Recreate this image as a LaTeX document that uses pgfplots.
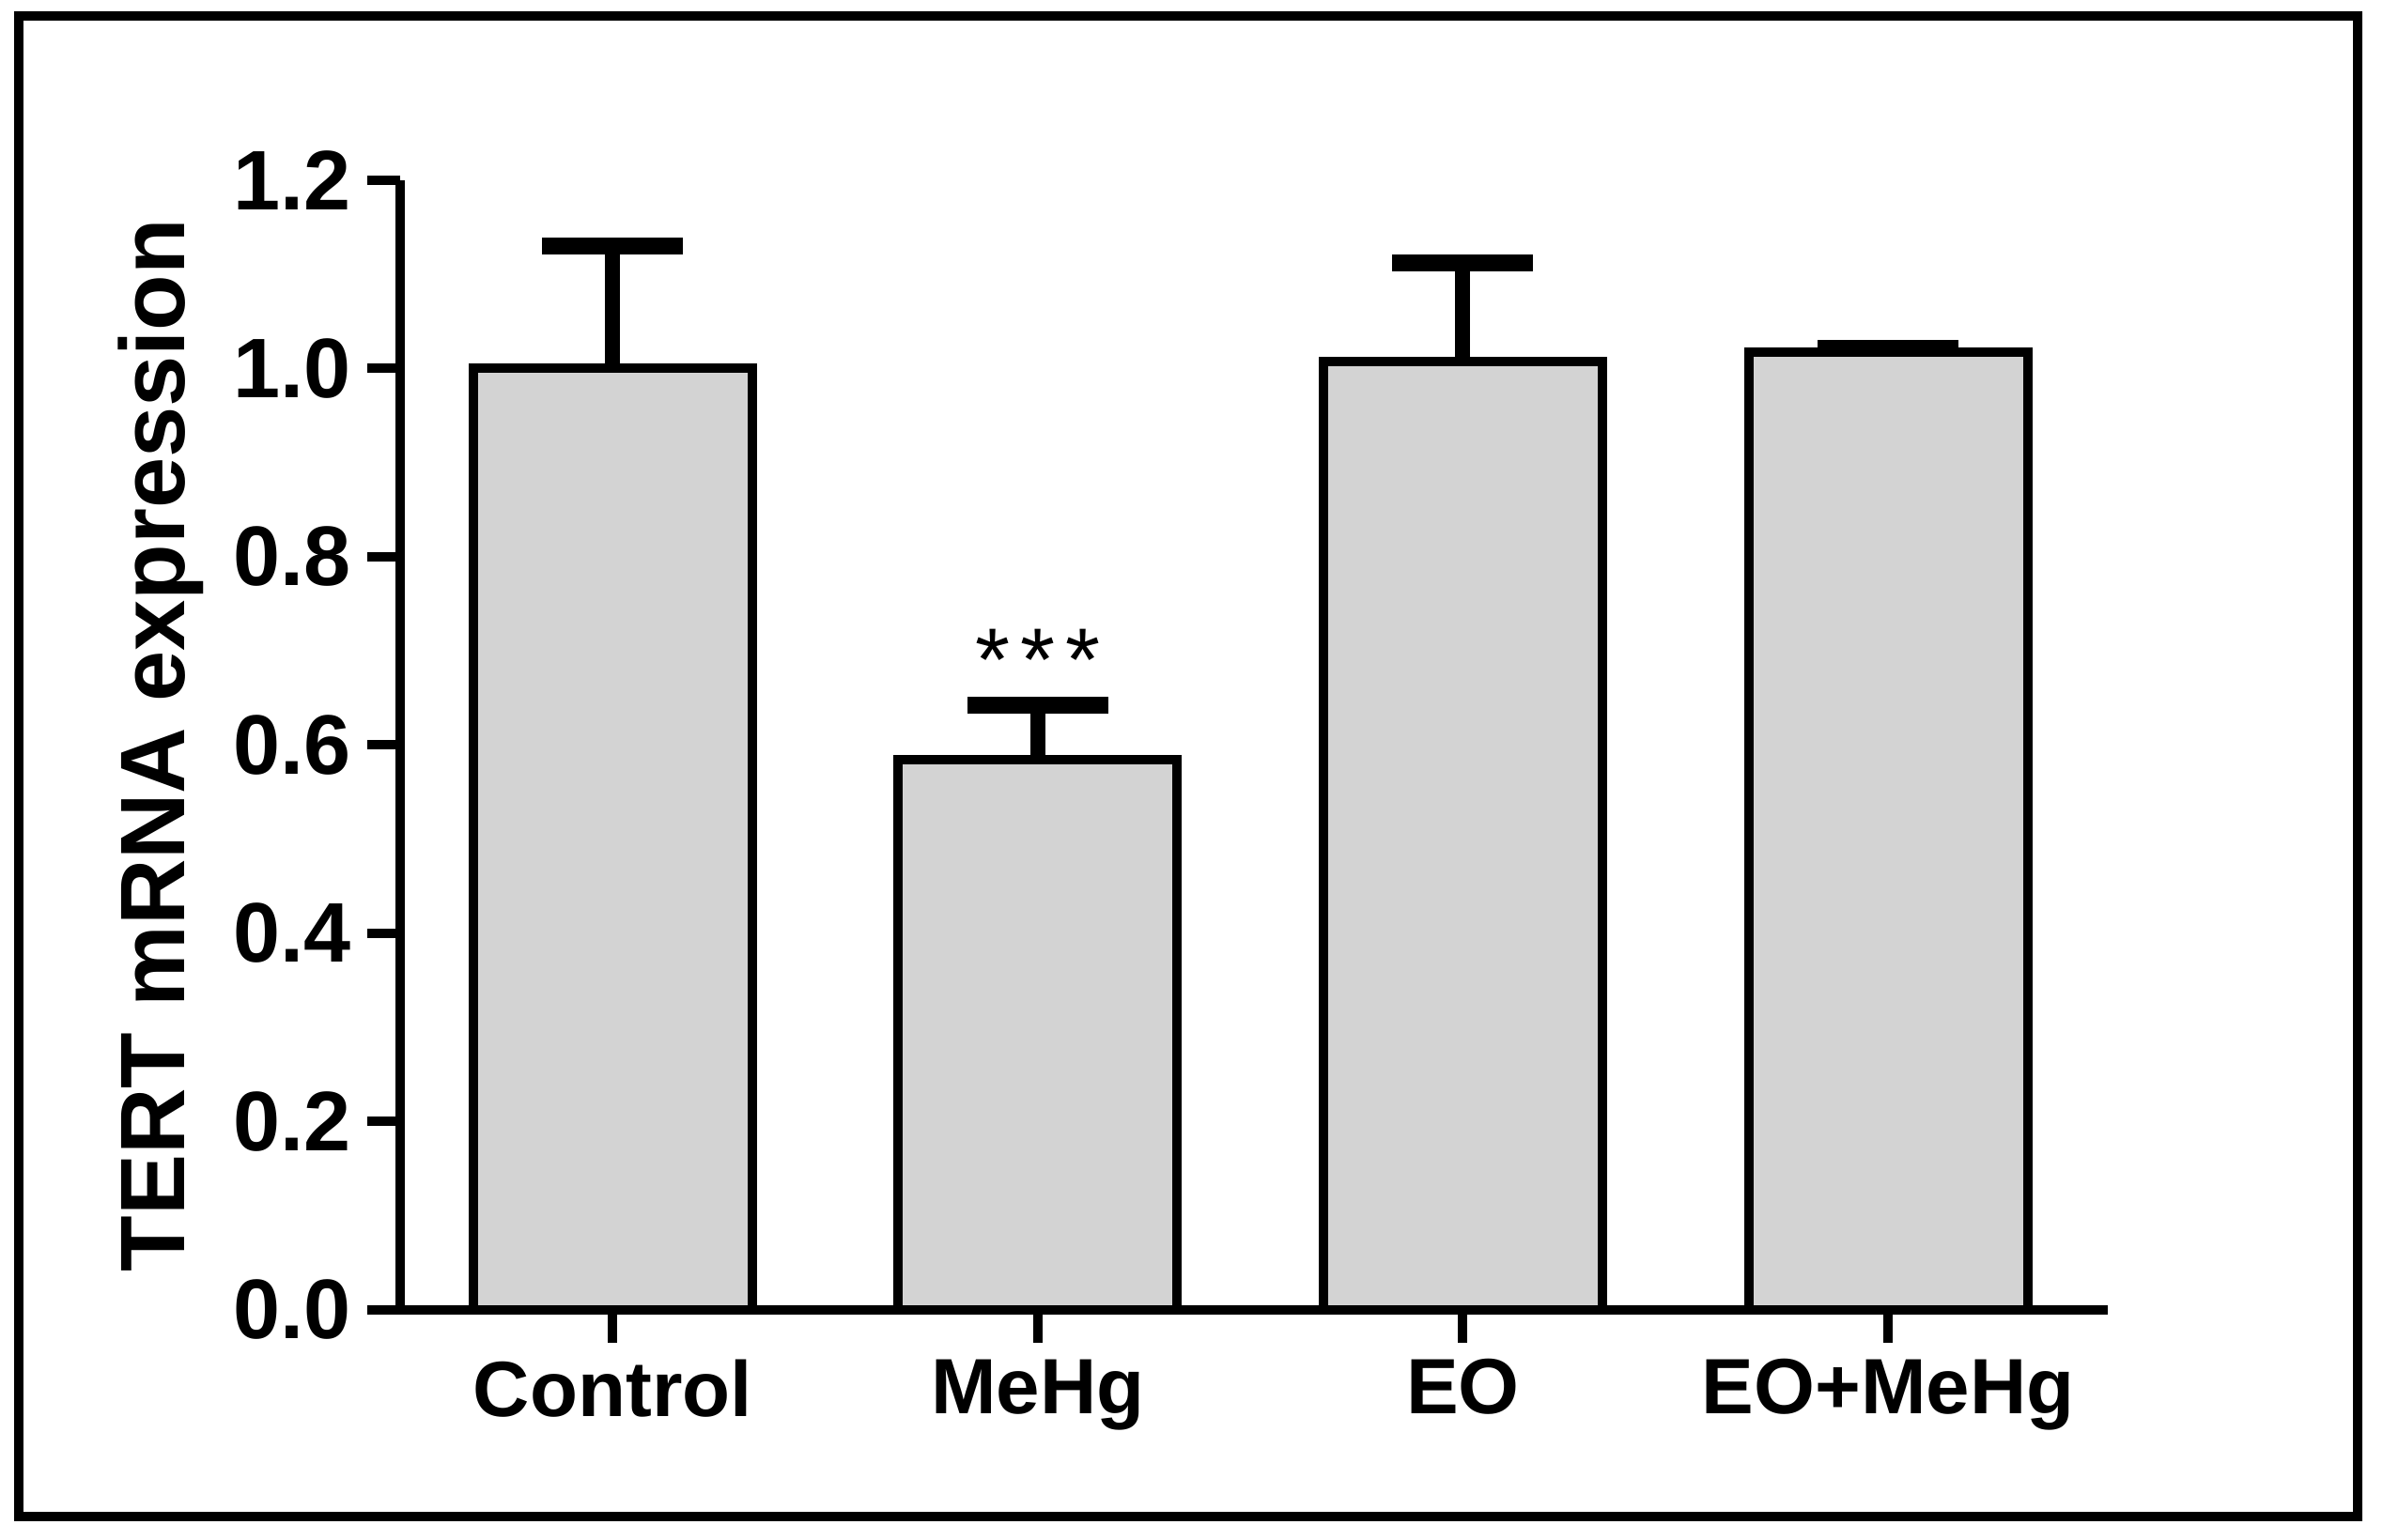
\documentclass[border=0pt]{standalone}
\usepackage{fontspec}
\setmainfont{Liberation Sans}
\usepackage{pgfplots}
\pgfplotsset{compat=1.18}
\definecolor{barfill}{RGB}{211,211,211}
\begin{document}
\begin{tikzpicture}[x=1pt,y=1pt]
\useasboundingbox (0,0) rectangle (507.4,328);
\draw[line width=2pt] (4,5) rectangle (502,324.6);
\begin{axis}[
  at={(85.2pt,49pt)}, anchor=south west,
  width=363.6pt, height=240.6pt, scale only axis,
  xmin=-0.5, xmax=3.517, ymin=0, ymax=1.2,
  axis x line*=bottom, axis y line*=left,
  axis line style={line width=2pt, black},
  ytick={0,0.2,0.4,0.6,0.8,1.0,1.2},
  xtick={0,1,2,3}, xticklabels={Control,MeHg,EO,EO+MeHg},
  tick align=outside, major tick length=7pt,
  tick style={line width=2pt, black},
  /pgf/number format/assume math mode=true,
  yticklabel style={/pgf/number format/fixed, /pgf/number format/fixed zerofill, /pgf/number format/precision=1, font=\bfseries\fontsize{18}{20}\selectfont},
  xticklabel style={font=\bfseries\fontsize{16.7}{20}\selectfont},
  ylabel={TERT mRNA expression},
  ylabel style={font=\bfseries\fontsize{19.5}{22}\selectfont, at={(axis description cs:-0.1403,0.5)}, anchor=center},
  clip=false,
]
\addplot[ybar, bar width=59.4pt, fill=barfill, draw=black, line width=2pt,
  error bars/.cd, y dir=plus, y explicit, error mark=|,
  error bar style={line width=3.2pt, black},
  error mark options={line width=3.6pt, mark size=15pt, black}]
  coordinates {
  (0,1.000) +- (0,0.130)
  (1,0.585) +- (0,0.057)
  (2,1.007) +- (0,0.105)
  (3,1.017) +- (0,0.004)
  };
\node[font=\fontsize{19}{22}\selectfont] at (axis cs:1,0.69) {*\kern0.12em*\kern0.12em*};
\end{axis}
\end{tikzpicture}
\end{document}
